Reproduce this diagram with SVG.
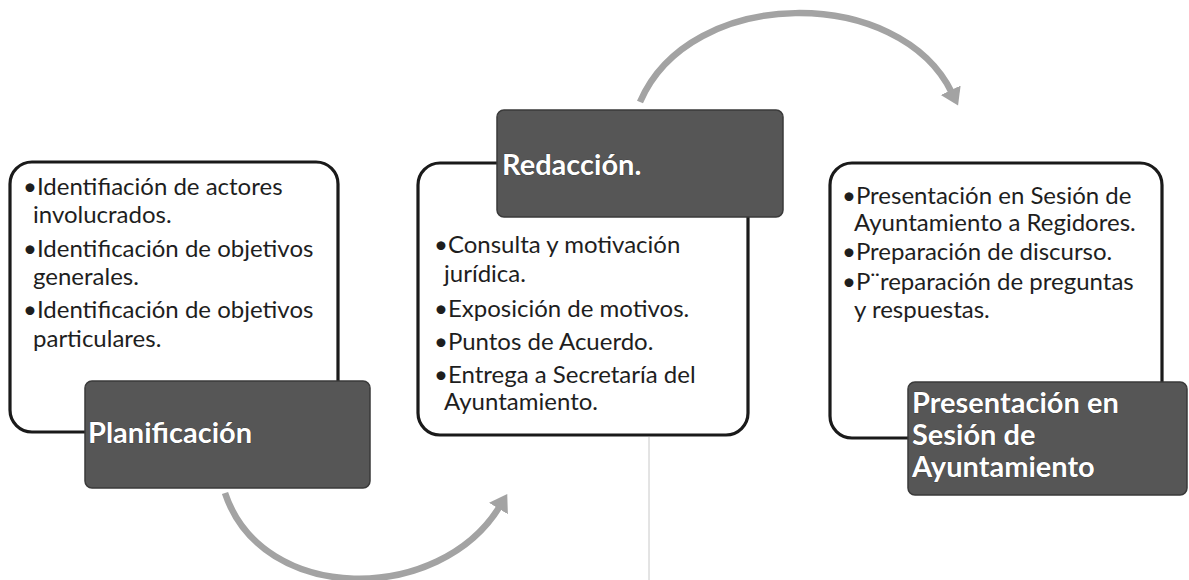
<svg xmlns="http://www.w3.org/2000/svg" width="1189" height="580" viewBox="0 0 1189 580">
<style>
.wb{fill:#fff;stroke:#1a1a1a;stroke-width:3.2}
.db{fill:#565656;stroke:#3a3a3a;stroke-width:1.5}
.t{font-family:Lato,"Open Sans",sans-serif;font-size:24px;fill:#1e1e1e}
.h{font-family:Lato,"Open Sans",sans-serif;font-size:29px;font-weight:bold;fill:#fff;stroke:#2a2a2a;stroke-width:0.6;paint-order:stroke}
.arc{fill:none;stroke:#a3a3a3;stroke-width:6.5}
</style>
<defs>
<marker id="ah" markerUnits="userSpaceOnUse" markerWidth="24" markerHeight="24" refX="3" refY="11" orient="auto">
<path d="M0,0 L17,11 L0,22 z" fill="#a3a3a3"/>
</marker>
</defs>
<rect width="1189" height="580" fill="#fff"/>
<line x1="649" y1="437" x2="649" y2="580" stroke="#c8c8c8" stroke-width="1"/>
<g id="connectors">
<path class="arc" d="M225,493 C262,605 440,605 500,506" marker-end="url(#ah)"/>
<path class="arc" d="M640,102 C690,-15 900,-15 952,93" marker-end="url(#ah)"/>
</g>
<g id="planificacion">
<rect class="wb" x="10" y="162" width="328" height="270" rx="22"/>
<text class="t"><tspan x="23" y="195">•Identifiación de actores</tspan><tspan x="33" y="223">involucrados.</tspan><tspan x="23" y="257">•Identificación de objetivos</tspan><tspan x="33" y="285">generales.</tspan><tspan x="23" y="318">•Identificación de objetivos</tspan><tspan x="33" y="347">particulares.</tspan></text>
<rect class="db" x="85" y="381" width="285" height="107" rx="7"/>
<text class="h" x="88" y="443">Planificación</text>
</g>
<g id="redaccion">
<rect class="wb" x="418" y="163" width="330" height="272" rx="22"/>
<rect class="db" x="497" y="110" width="286" height="107" rx="7"/>
<text class="h" x="502" y="175">Redacción.</text>
<text class="t"><tspan x="434" y="253">•Consulta y motivación</tspan><tspan x="444" y="282">jurídica.</tspan><tspan x="434" y="317">•Exposición de motivos.</tspan><tspan x="434" y="350">•Puntos de Acuerdo.</tspan><tspan x="434" y="383">•Entrega a Secretaría del</tspan><tspan x="444" y="410">Ayuntamiento.</tspan></text>
</g>
<g id="presentacion">
<rect class="wb" x="830" y="163" width="332" height="275" rx="22"/>
<text class="t"><tspan x="842" y="204">•Presentación en Sesión de</tspan><tspan x="854" y="231">Ayuntamiento a Regidores.</tspan><tspan x="842" y="260">•Preparación de discurso.</tspan><tspan x="842" y="290">•P¨reparación de preguntas</tspan><tspan x="854" y="318">y respuestas.</tspan></text>
<rect class="db" x="908" y="382" width="279" height="113" rx="7"/>
<text class="h"><tspan x="912" y="413">Presentación en</tspan><tspan x="912" y="445">Sesión de</tspan><tspan x="912" y="477">Ayuntamiento</tspan></text>
</g>
</svg>
